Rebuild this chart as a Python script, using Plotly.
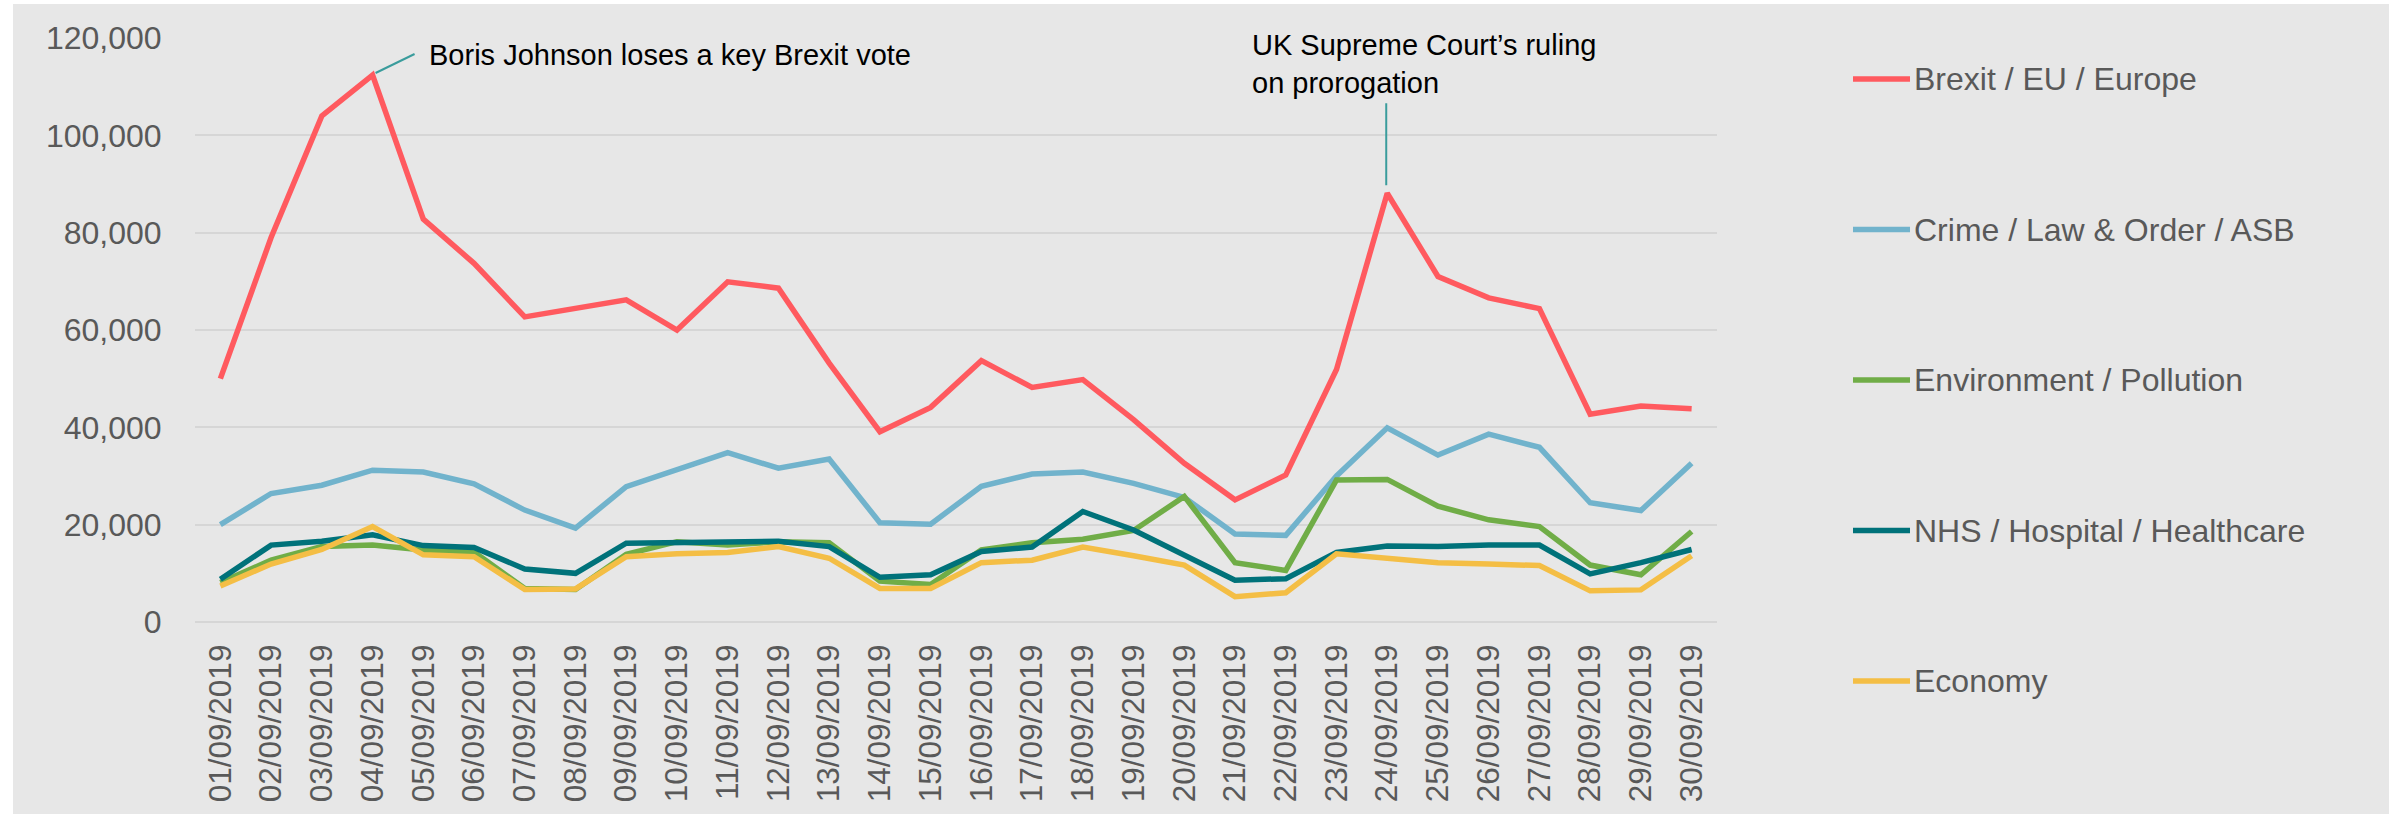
import plotly.graph_objects as go

# Daily mention counts, September 2019
dates = [f"{d:02d}/09/2019" for d in range(1, 31)]

brexit = [50000, 79000, 104000, 112400, 82800, 73700, 62700, 64500, 66200, 60000,
          69900, 68600, 53200, 39100, 44100, 53700, 48200, 49800, 41600, 32600,
          25100, 30200, 51900, 88100, 71000, 66600, 64400, 42700, 44400, 43800]
crime = [20000, 26400, 28100, 31200, 30800, 28400, 23000, 19300, 27800, 31400,
         34800, 31600, 33500, 20400, 20100, 27900, 30400, 30800, 28500, 25600,
         18100, 17800, 30000, 39900, 34300, 38600, 35900, 24500, 22900, 32600]
environment = [8100, 12700, 15500, 15800, 14800, 14400, 6900, 6700, 13900, 16500,
               15800, 16500, 16300, 8400, 7700, 14800, 16300, 17000, 18800, 25800,
               12200, 10600, 29200, 29300, 23800, 21000, 19600, 11700, 9700, 18600]
nhs = [8800, 15800, 16600, 17900, 15700, 15300, 10900, 10000, 16200, 16400,
       16500, 16600, 15500, 9200, 9700, 14500, 15400, 22700, 18900, 13800,
       8600, 8900, 14300, 15600, 15500, 15800, 15800, 9900, 12200, 14900]
economy = [7400, 11900, 14900, 19600, 13800, 13400, 6700, 6800, 13400, 14000,
           14300, 15500, 13100, 6900, 6900, 12200, 12700, 15400, 13600, 11700,
           5200, 6000, 14000, 13100, 12200, 11900, 11600, 6400, 6600, 13600]

series_names = ["Brexit / EU / Europe", "Crime / Law & Order / ASB",
                "Environment / Pollution", "NHS / Hospital / Healthcare", "Economy"]
series_values = [brexit, crime, environment, nhs, economy]
series_colors = ["#FF5A5F", "#71B3CC", "#70AD47", "#00727A", "#F4BE45"]

y_ticks = [0, 20000, 40000, 60000, 80000, 100000, 120000]

# Figure geometry (pixels)
W, H = 2403, 814
ML, MR, MT, MB = 195, 686, 38, 192
PW, PH = W - ML - MR, H - MT - MB
BG = "#E7E7E7"
TXT = "#595959"
FONT = "Liberation Sans, Arial, sans-serif"
TICK_SIZE = 32
DATE_SIZE = 31.5
LINE_W = 5.5


def px_to_paper_x(px):
    return (px - ML) / PW


def px_to_paper_y(py):
    return (H - MB - py) / PH


fig = go.Figure()
for name, vals, col in zip(series_names, series_values, series_colors):
    fig.add_trace(go.Scatter(
        x=dates, y=vals, name=name, mode="lines",
        line=dict(color=col, width=LINE_W),
        showlegend=False,
    ))

# grey card behind the whole chart
fig.add_shape(type="rect", xref="paper", yref="paper", layer="below",
              x0=px_to_paper_x(13), x1=px_to_paper_x(2389),
              y0=px_to_paper_y(H), y1=px_to_paper_y(4),
              line=dict(width=0), fillcolor=BG)

# key on the right: one swatch line and label per series, evenly spaced
KEY_X0, KEY_X1, KEY_TEXT_X = 1853, 1910, 1912
KEY_TOP, KEY_STEP = 79, 150.5
for i, (name, col) in enumerate(zip(series_names, series_colors)):
    ky = px_to_paper_y(KEY_TOP + i * KEY_STEP)
    fig.add_shape(type="line", xref="paper", yref="paper",
                  x0=px_to_paper_x(KEY_X0), x1=px_to_paper_x(KEY_X1), y0=ky, y1=ky,
                  line=dict(color=col, width=LINE_W))
    fig.add_annotation(xref="paper", yref="paper", x=px_to_paper_x(KEY_TEXT_X), y=ky,
                       text=name, showarrow=False, xanchor="left", yanchor="middle",
                       font=dict(family=FONT, size=TICK_SIZE, color=TXT))

# event call-outs
LEADER = "#3A9C9C"
fig.add_shape(type="line", xref="x", yref="y", xsizemode="pixel", ysizemode="pixel",
              xanchor=dates[3], yanchor=brexit[3], x0=3, y0=2, x1=42, y1=21,
              line=dict(color=LEADER, width=2))
fig.add_annotation(x=dates[3], y=brexit[3], xref="x", yref="y",
                   text="Boris Johnson loses a key Brexit vote", showarrow=False,
                   xanchor="left", yanchor="middle", xshift=54, yshift=20,
                   font=dict(family=FONT, size=29, color="#000000"))

fig.add_shape(type="line", xref="x", yref="y", xsizemode="pixel", ysizemode="pixel",
              xanchor=dates[23], yanchor=brexit[23], x0=-1, y0=8, x1=-1, y1=90,
              line=dict(color=LEADER, width=2))
fig.add_annotation(x=dates[23], y=brexit[23], xref="x", yref="y",
                   text="UK Supreme Court\u2019s ruling<br>on prorogation", showarrow=False,
                   xanchor="left", yanchor="bottom", align="left", xshift=-137, yshift=92,
                   font=dict(family=FONT, size=29, color="#000000"))

fig.update_layout(
    width=W, height=H,
    margin=dict(l=ML, r=MR, t=MT, b=MB, pad=0, autoexpand=False),
    paper_bgcolor="#FFFFFF", plot_bgcolor=BG,
    font=dict(family=FONT, size=TICK_SIZE, color=TXT),
    showlegend=False,
)

fig.update_xaxes(
    type="category", range=[-0.5, len(dates) - 0.5], automargin=False,
    tickangle=-90, ticks="outside", ticklen=9, tickcolor="rgba(0,0,0,0)",
    showgrid=False, showline=False, zeroline=False,
    tickfont=dict(family=FONT, size=DATE_SIZE, color=TXT),
)
fig.update_yaxes(
    range=[0, 120000], tickvals=y_ticks, tickformat=",d", automargin=False,
    ticks="outside", ticklen=26, tickcolor="rgba(0,0,0,0)",
    showgrid=True, gridcolor="#D6D6D6", gridwidth=1.5,
    zeroline=True, zerolinecolor="#D6D6D6", zerolinewidth=1.5,
    showline=False,
    tickfont=dict(family=FONT, size=TICK_SIZE, color=TXT),
)

fig.write_html("out.html")
